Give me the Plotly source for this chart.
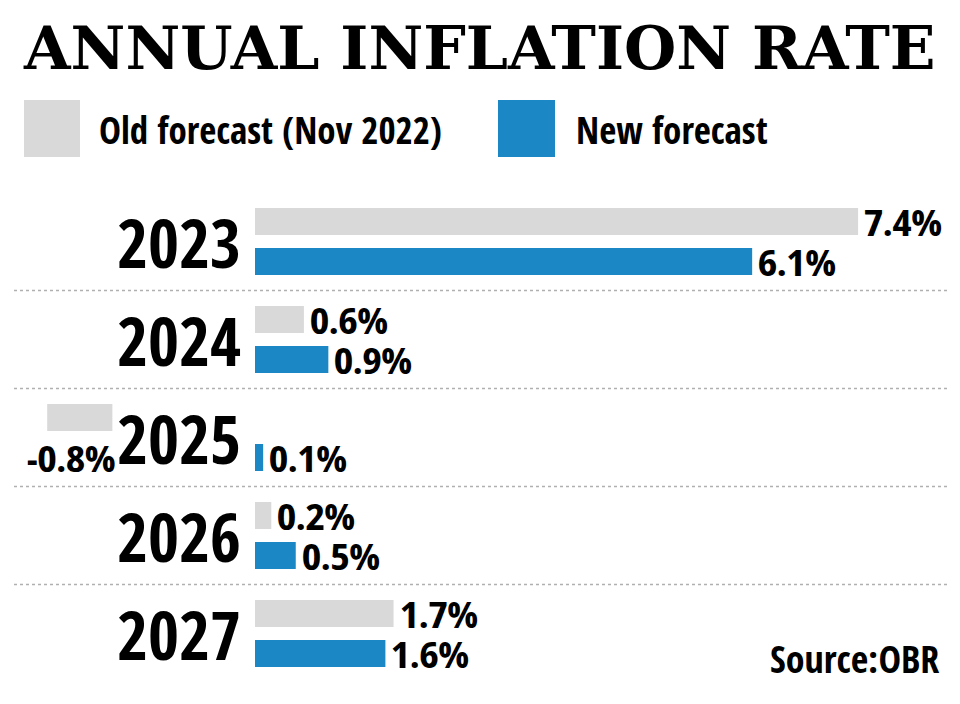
import plotly.graph_objects as go

# ---- data ----
years = ["2023", "2024", "2025", "2026", "2027"]
old_forecast = [7.4, 0.6, -0.8, 0.2, 1.7]
new_forecast = [6.1, 0.9, 0.1, 0.5, 1.6]
old_label = "Old forecast (Nov 2022)"
new_label = "New forecast"
title_text = "ANNUAL INFLATION RATE"
source_text = "Source:OBR"

# ---- style / layout constants ----
W, H = 960, 704
ZERO_PX = 255
PX_PER_UNIT = 81.5
NEG_SHIFT = -1.75          # negative bars are drawn left of the year labels
GRAY = "#d9d9d9"
BLUE = "#1b87c5"
COND = "Open Sans Condensed, Roboto Condensed, DejaVu Sans Condensed, sans-serif"
VALF = "Noto Sans Display, Open Sans, sans-serif"
SLAB = "DejaVu Serif, serif"
BAND_TOP, BAND_BOT = 192.5, 682.5
BAR_W = 0.276
BAR_OFF = 0.204
LBL_SHIFT = 20

x_range = [-ZERO_PX / PX_PER_UNIT, (W - ZERO_PX) / PX_PER_UNIT]
old_base = [NEG_SHIFT if v < 0 else 0 for v in old_forecast]

fig = go.Figure()
fig.add_trace(go.Bar(
    y=years, x=old_forecast, base=old_base, orientation="h",
    marker=dict(color=GRAY, line=dict(width=0)),
    width=[BAR_W] * len(years), offset=[-BAR_OFF - BAR_W / 2] * len(years),
    name=old_label, hoverinfo="skip",
))
fig.add_trace(go.Bar(
    y=years, x=new_forecast, orientation="h",
    marker=dict(color=BLUE, line=dict(width=0)),
    width=[BAR_W] * len(years), offset=[BAR_OFF - BAR_W / 2] * len(years),
    name=new_label, hoverinfo="skip",
))

annotations = []
shapes = []
val_font = dict(family=VALF, size=35, color="black", weight="bold")
VAL_BOX_H = 34

# year labels (category axis -> numeric index positions)
for i, yr in enumerate(years):
    annotations.append(dict(x=0, y=i, xref="x", yref="y", text=yr, showarrow=False,
                            xanchor="right", yanchor="middle", xshift=-12, yshift=0,
                            height=60,
                            font=dict(family=COND, size=67, color="black", weight="bold")))

# value labels
for i, (v, b) in enumerate(zip(old_forecast, old_base)):
    if v < 0:
        annotations.append(dict(x=b, y=i, xref="x", yref="y", text=f"{v:.1f}%", showarrow=False,
                                xanchor="right", yanchor="middle", yshift=-LBL_SHIFT, xshift=5,
                                height=VAL_BOX_H, font=val_font))
    else:
        annotations.append(dict(x=v, y=i, xref="x", yref="y", text=f"{v:.1f}%", showarrow=False,
                                xanchor="left", yanchor="middle", yshift=LBL_SHIFT, xshift=4,
                                height=VAL_BOX_H, font=val_font))
for i, v in enumerate(new_forecast):
    annotations.append(dict(x=v, y=i, xref="x", yref="y", text=f"{v:.1f}%", showarrow=False,
                            xanchor="left", yanchor="middle", yshift=-LBL_SHIFT, xshift=4,
                            height=VAL_BOX_H, font=val_font))

# separators
for i in range(len(years) - 1):
    shapes.append(dict(type="line", xref="paper", yref="y", x0=14 / W, x1=950 / W,
                       y0=i + 0.5, y1=i + 0.5, line=dict(color="#b0b0b0", width=1.5, dash="dot")))

def py(p):
    return 1 - p / H

# legend
shapes.append(dict(type="rect", xref="paper", yref="paper", x0=24 / W, x1=80 / W,
                   y0=py(157), y1=py(100), fillcolor=GRAY, line=dict(width=0)))
shapes.append(dict(type="rect", xref="paper", yref="paper", x0=498 / W, x1=555 / W,
                   y0=py(157), y1=py(100), fillcolor=BLUE, line=dict(width=0)))
annotations.append(dict(x=97 / W, y=py(129), xref="paper", yref="paper", text=old_label,
                        showarrow=False, xanchor="left", yanchor="middle",
                        font=dict(family=COND, size=37, color="black", weight="bold")))
annotations.append(dict(x=574 / W, y=py(129), xref="paper", yref="paper", text=new_label,
                        showarrow=False, xanchor="left", yanchor="middle",
                        font=dict(family=COND, size=37, color="black", weight="bold")))

# title
annotations.append(dict(x=479 / W, y=py(48), xref="paper", yref="paper", text=title_text,
                        showarrow=False, xanchor="center", yanchor="middle",
                        font=dict(family=SLAB, size=60, color="black", weight="bold")))
# source
annotations.append(dict(x=941 / W, y=py(658), xref="paper", yref="paper", text=source_text,
                        showarrow=False, xanchor="right", yanchor="middle",
                        font=dict(family=COND, size=38, color="black", weight="bold")))

fig.update_layout(
    width=W, height=H, margin=dict(l=0, r=0, t=0, b=0),
    paper_bgcolor="white", plot_bgcolor="white",
    barmode="overlay", showlegend=False,
    xaxis=dict(range=x_range, visible=False, fixedrange=True),
    yaxis=dict(type="category", categoryorder="array", categoryarray=years,
               range=[len(years) - 0.5, -0.5], visible=False, fixedrange=True,
               domain=[1 - BAND_BOT / H, 1 - BAND_TOP / H]),
    annotations=annotations, shapes=shapes,
)

fig.write_html("out.html", config={"displayModeBar": False},
               post_script="document.body.style.margin='0';")
